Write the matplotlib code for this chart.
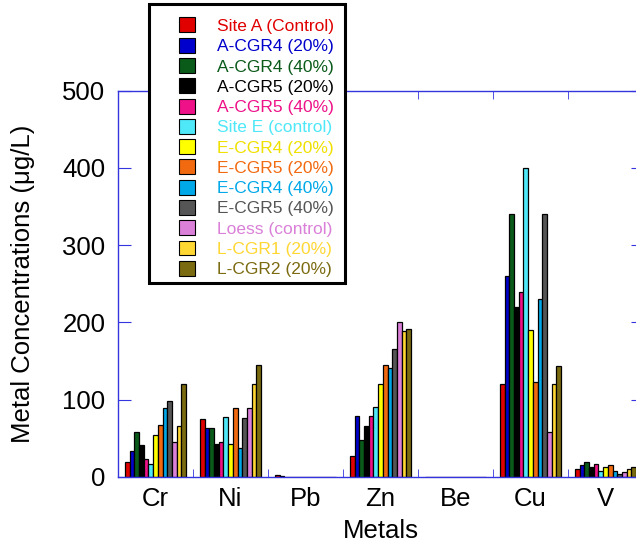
import matplotlib
matplotlib.use("Agg")
import matplotlib.pyplot as plt
import numpy as np
from matplotlib.patches import Patch, Rectangle

plt.rcParams['font.family'] = ['Liberation Sans', 'DejaVu Sans']

metals = ["Cr", "Ni", "Pb", "Zn", "Be", "Cu", "V"]
series = ["Site A (Control)", "A-CGR4 (20%)", "A-CGR4 (40%)", "A-CGR5 (20%)",
          "A-CGR5 (40%)", "Site E (control)", "E-CGR4 (20%)", "E-CGR5 (20%)",
          "E-CGR4 (40%)", "E-CGR5 (40%)", "Loess (control)", "L-CGR1 (20%)",
          "L-CGR2 (20%)"]
colors = ["#e00000", "#0000cc", "#0a5a1a", "#000000", "#ee1188", "#4ee8f8",
          "#ffff00", "#f26a10", "#00a8e8", "#555555", "#da80d8", "#ffd733",
          "#7a6a10"]
text_colors = ["#e00000", "#0000cc", "#0a5a1a", "#000000", "#ee1188", "#4ee8f8",
               "#f0e000", "#f26a10", "#00a8e8", "#555555", "#da80d8", "#ffd733",
               "#7a6a10"]

# values per metal, one per series (ug/L)
cr = [20, 34, 58, 41, 23, 17, 54, 67, 89, 98, 45, 66, 120]
ni = [75, 63, 64, 43, 45, 78, 43, 89, 38, 77, 89, 120, 145]
pb = [2, 1, 0.5, 0.5, 0.5, 0.5, 0.5, 0.5, 0.5, 0.5, 0.5, 0.5, 0.5]
zn = [27, 79, 48, 66, 79, 90, 121, 145, 141, 166, 201, 189, 191]
be = [0.5, 0.5, 0.5, 0.5, 0.5, 0.5, 0.5, 0.5, 0.5, 0.5, 0.5, 0.5, 0.5]
cu = [120, 260, 340, 220, 240, 400, 190, 123, 230, 340, 58, 120, 144]
v = [11, 15, 20, 13, 17, 8, 13, 15, 8, 4.5, 7, 11, 13]

values = np.array([cr, ni, pb, zn, be, cu, v])

fig = plt.figure(figsize=(6.36, 5.46), dpi=100)
ax = fig.add_axes([118/636, 1-477/546, (643-118)/636, (477-90.7)/546])

x = np.arange(len(metals))
w = 0.0625
n = len(series)
for j in range(n):
    ax.bar(x + (j - (n-1)/2) * w, values[:, j], width=w, color=colors[j],
           edgecolor="black", linewidth=0.9)

spine_col = "#3535e0"
for s in ax.spines.values():
    s.set_color(spine_col)
    s.set_linewidth(1.0)

ax.set_xlim(-0.5, 6.5)
ax.set_ylim(0, 500)
ax.set_xticks(x)
ax.set_xticklabels(metals)
ax.set_xticks(np.arange(0.5, 6, 1), minor=True)
ax.tick_params(axis="x", which="major", length=0, pad=7, labelsize=18.5)
ax.tick_params(axis="x", which="minor", direction="in", length=6,
               color=spine_col, top=True, bottom=True)
ax.set_yticks([0, 100, 200, 300, 400, 500])
ax.tick_params(axis="y", direction="in", length=9, color=spine_col,
               left=True, right=True, labelsize=18.5, pad=9)

ax.set_xlabel("Metals", fontsize=18.5, labelpad=6)
ax.set_ylabel("Metal Concentrations (μg/L)", fontsize=18.5, labelpad=20)

# legend entries without a frame, frame drawn as a box in figure coords
handles = [Patch(facecolor=c, edgecolor="black", linewidth=0.8) for c in colors]
leg = fig.legend(handles, series, loc="upper left",
                 bbox_to_anchor=(179/636, 1-17.5/546), fontsize=12.5,
                 frameon=False, labelcolor=text_colors,
                 handlelength=0.95, handleheight=0.95, labelspacing=0.22,
                 handletextpad=1.25, borderpad=0, borderaxespad=0)
leg.set_zorder(6)
box = Rectangle((149/636, 1-283/546), (345-149)/636, (283-4)/546,
                transform=fig.transFigure, facecolor="white",
                edgecolor="black", linewidth=2.2, zorder=5)
fig.add_artist(box)

fig.savefig("out.png", dpi=100)
